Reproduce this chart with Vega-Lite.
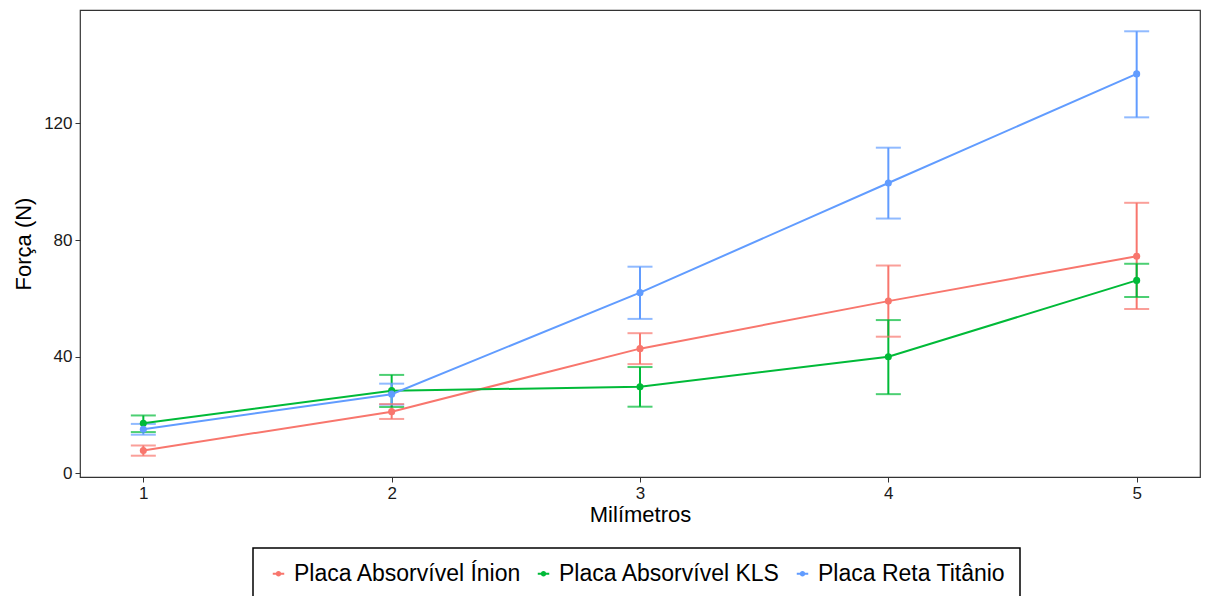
{
  "$schema": "https://vega.github.io/schema/vega-lite/v6.json",
  "autosize": {"type": "none"},
  "width": 1120,
  "height": 467,
  "padding": {"left": 80, "top": 10, "right": 6, "bottom": 119},
  "background": "white",
  "config": {
    "font": "Liberation Sans",
    "view": {"stroke": "#333333", "strokeWidth": 1.2},
    "axis": {
      "grid": false,
      "domain": false,
      "tickColor": "#333333",
      "tickSize": 5,
      "tickWidth": 1,
      "labelColor": "#1a1a1a",
      "labelFontSize": 17,
      "labelPadding": 3,
      "titleColor": "#000000",
      "titleFontSize": 22,
      "titleFontWeight": "normal"
    }
  },
  "data": {
    "values": [
      {"mm": 1, "grupo": "Placa Absorvível Ínion", "forca": 7.9, "lo": 6.1, "hi": 9.6},
      {"mm": 2, "grupo": "Placa Absorvível Ínion", "forca": 21.2, "lo": 18.7, "hi": 23.8},
      {"mm": 3, "grupo": "Placa Absorvível Ínion", "forca": 42.8, "lo": 37.5, "hi": 48.1},
      {"mm": 4, "grupo": "Placa Absorvível Ínion", "forca": 59.1, "lo": 46.9, "hi": 71.3},
      {"mm": 5, "grupo": "Placa Absorvível Ínion", "forca": 74.5, "lo": 56.4, "hi": 92.8},
      {"mm": 1, "grupo": "Placa Absorvível KLS", "forca": 17.2, "lo": 14.2, "hi": 19.9},
      {"mm": 2, "grupo": "Placa Absorvível KLS", "forca": 28.4, "lo": 22.8, "hi": 33.8},
      {"mm": 3, "grupo": "Placa Absorvível KLS", "forca": 29.7, "lo": 22.9, "hi": 36.5},
      {"mm": 4, "grupo": "Placa Absorvível KLS", "forca": 40.0, "lo": 27.2, "hi": 52.6},
      {"mm": 5, "grupo": "Placa Absorvível KLS", "forca": 66.2, "lo": 60.5, "hi": 71.9},
      {"mm": 1, "grupo": "Placa Reta Titânio", "forca": 15.2, "lo": 13.3, "hi": 17.0},
      {"mm": 2, "grupo": "Placa Reta Titânio", "forca": 27.2, "lo": 23.6, "hi": 30.8},
      {"mm": 3, "grupo": "Placa Reta Titânio", "forca": 62.0, "lo": 53.0, "hi": 70.9},
      {"mm": 4, "grupo": "Placa Reta Titânio", "forca": 99.6, "lo": 87.4, "hi": 111.7},
      {"mm": 5, "grupo": "Placa Reta Titânio", "forca": 137.0, "lo": 122.1, "hi": 151.6}
    ]
  },
  "encoding": {
    "x": {
      "field": "mm", "type": "quantitative",
      "scale": {"domain": [0.745, 5.255], "nice": false, "zero": false},
      "axis": {"values": [1, 2, 3, 4, 5], "title": "Milímetros", "titlePadding": 3, "format": "d"}
    },
    "color": {
      "field": "grupo", "type": "nominal",
      "scale": {
        "domain": ["Placa Absorvível Ínion", "Placa Absorvível KLS", "Placa Reta Titânio"],
        "range": ["#F8766D", "#00BA38", "#619CFF"]
      },
      "legend": {
        "title": null,
        "orient": "none",
        "legendX": 173,
        "legendY": 538,
        "direction": "horizontal",
        "columns": 3,
        "columnPadding": 10,
        "padding": 14,
        "strokeColor": "#000000",
        "labelFontSize": 23,
        "labelColor": "#000000",
        "labelOffset": 4,
        "labelLimit": 400,
        "symbolType": "M-1,0H1M0,-0.3A0.3,0.3,0,1,1,0,0.3A0.3,0.3,0,1,1,0,-0.3Z",
        "symbolSize": 132,
        "symbolStrokeWidth": 2,
        "encode": {
          "symbols": {"update": {"fill": {"scale": "color", "field": "value"}, "stroke": {"scale": "color", "field": "value"}}},
          "legend": {"update": {"strokeWidth": {"value": 1.5}}}
        }
      }
    }
  },
  "layer": [
    {
      "mark": {"type": "rule", "strokeWidth": 2},
      "encoding": {
        "y": {"field": "lo", "type": "quantitative"},
        "y2": {"field": "hi"}
      }
    },
    {
      "mark": {"type": "tick", "orient": "horizontal", "size": 25, "thickness": 2},
      "encoding": {
        "y": {"field": "lo", "type": "quantitative"}
      }
    },
    {
      "mark": {"type": "tick", "orient": "horizontal", "size": 25, "thickness": 2},
      "encoding": {
        "y": {"field": "hi", "type": "quantitative"}
      }
    },
    {
      "mark": {"type": "line", "strokeWidth": 2},
      "encoding": {
        "y": {
          "field": "forca", "type": "quantitative",
          "scale": {"domain": [-1.2, 158.9], "nice": false, "zero": false},
          "axis": {"values": [0, 40, 80, 120], "title": "Força (N)", "titlePadding": 8}
        }
      }
    },
    {
      "mark": {"type": "point", "filled": true, "opacity": 1, "size": 50},
      "encoding": {
        "y": {"field": "forca", "type": "quantitative"}
      }
    }
  ]
}
